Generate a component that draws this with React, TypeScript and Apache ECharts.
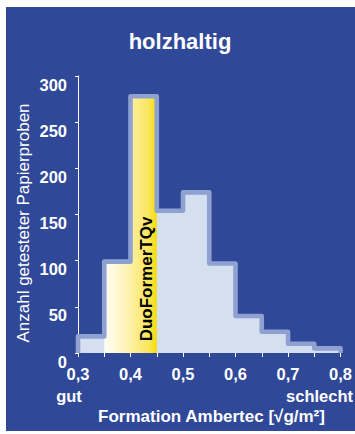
import React, { useEffect, useRef } from "react";
import * as echarts from "echarts";

// Histogram bins (Formation Ambertec, √g/m²)
const binStarts = [0.3, 0.35, 0.4, 0.45, 0.5, 0.55, 0.6, 0.65, 0.7, 0.75];
const binEnds = [0.35, 0.4, 0.45, 0.5, 0.55, 0.6, 0.65, 0.7, 0.75, 0.8];
const counts = [18, 99, 278, 154, 174, 97, 40, 23, 10, 5];
// bins filled with the yellow "DuoFormerTQv" gradient
const highlightBins = [0.35, 0.4];

const titleText = "holzhaltig";
const yAxisName = "Anzahl getesteter Papierproben";
const xAxisName = "Formation Ambertec [\u221Ag/m\u00B2]";
const leftNote = "gut";
const rightNote = "schlecht";
const barLabel = "DuoFormerTQv";

const FONT = '"Liberation Sans", Arial, Helvetica, sans-serif';
const BLUE = "#2F4898";
const FILL = "#D4DFF0";
const OUTLINE = "#8FA1D1";

const yellowStops: Record<string, { offset: number; color: string }[]> = {
  "0.35": [
    { offset: 0, color: "#FFFEF6" },
    { offset: 1, color: "#FDF1A8" },
  ],
  "0.4": [
    { offset: 0, color: "#FDF0A4" },
    { offset: 0.7, color: "#FAE65A" },
    { offset: 1, color: "#F5DC00" },
  ],
};

function fmtX(v: number) {
  const r = Math.round(v * 100);
  if (r % 10 !== 0) return "";
  return "0," + r / 10;
}

export default function App() {
  const ref = useRef<HTMLDivElement>(null);
  useEffect(() => {
    if (!ref.current) return;
    const chart = echarts.init(ref.current, null, { renderer: "svg" });

    const yellowData = binStarts
      .map((s, i) => [s, binEnds[i], counts[i]])
      .filter((d) => highlightBins.some((h) => Math.abs(h - d[0]) < 1e-6));
    const outline: number[][] = [[binStarts[0], 0]];
    binStarts.forEach((s, i) => {
      outline.push([s, counts[i]]);
      outline.push([binEnds[i], counts[i]]);
    });
    outline.push([binEnds[binEnds.length - 1], 0]);

    const textBase = { fill: "#fff", fontFamily: FONT };

    chart.setOption({
      animation: false,
      backgroundColor: BLUE,
      grid: { left: 72, right: 11.6, top: 69, bottom: 78, containLabel: false },
      xAxis: {
        type: "value",
        min: 0.3,
        max: 0.8,
        interval: 0.05,
        axisLine: { show: false },
        axisTick: { show: true, length: 4, lineStyle: { color: "#fff", width: 1 } },
        splitLine: { show: false },
        axisLabel: {
          formatter: fmtX,
          color: "#fff",
          fontWeight: "bold",
          fontSize: 16.5,
          fontFamily: FONT,
          margin: 12,
        },
      },
      yAxis: {
        type: "value",
        min: 0,
        max: 300,
        interval: 50,
        axisLine: { show: true, lineStyle: { color: "#fff", width: 1 } },
        axisTick: { show: true, length: 3, lineStyle: { color: "#fff", width: 1 } },
        splitLine: { show: false },
        axisLabel: {
          color: "#fff",
          fontWeight: "bold",
          fontSize: 16.5,
          fontFamily: FONT,
          margin: 11,
          verticalAlign: "top",
        },
      },
      series: [
        {
          // histogram body: one filled step polygon
          type: "line",
          z: 2,
          silent: true,
          symbol: "none",
          showSymbol: false,
          data: outline,
          lineStyle: { width: 0, opacity: 0 },
          areaStyle: { color: FILL, opacity: 1 },
        },
        {
          // yellow DuoFormerTQv bins
          type: "custom",
          z: 3,
          silent: true,
          encode: { x: [0, 1], y: 2 },
          data: yellowData,
          renderItem: (params: any, api: any) => {
            const s = api.value(0);
            const e = api.value(1);
            const v = api.value(2);
            const p0 = api.coord([s, 0]);
            const p1 = api.coord([e, v]);
            const key = String(Math.round(s * 100) / 100);
            return {
              type: "rect",
              shape: {
                x: p0[0],
                y: p1[1],
                width: p1[0] - p0[0] + (params.dataIndex === 0 ? 0.6 : 0),
                height: p0[1] - p1[1],
              },
              style: {
                fill: new echarts.graphic.LinearGradient(0, 0, 1, 0, yellowStops[key]),
              },
            };
          },
        },
        {
          // outline
          type: "line",
          z: 4,
          silent: true,
          clip: false,
          symbol: "none",
          showSymbol: false,
          data: outline,
          lineStyle: { color: OUTLINE, width: 4.6, join: "round", cap: "butt" },
        },
      ],
      graphic: [
        {
          type: "text",
          x: 174,
          y: 34,
          z: 100,
          style: {
            ...textBase,
            text: titleText,
            fontSize: 22,
            fontWeight: "bold",
            align: "center",
            verticalAlign: "middle",
          },
        },
        {
          type: "text",
          x: 17,
          y: 216,
          rotation: Math.PI / 2,
          z: 100,
          style: {
            ...textBase,
            text: yAxisName,
            fontSize: 17,
            fontWeight: "normal",
            align: "center",
            verticalAlign: "middle",
          },
        },
        {
          type: "text",
          x: 140.5,
          y: 272,
          rotation: Math.PI / 2,
          z: 100,
          style: {
            text: barLabel,
            fill: "#000",
            fontFamily: FONT,
            fontSize: 17,
            fontWeight: "bold",
            align: "center",
            verticalAlign: "middle",
          },
        },
        {
          type: "text",
          x: 63,
          y: 389,
          z: 100,
          style: {
            ...textBase,
            text: leftNote,
            fontSize: 16.5,
            fontWeight: "bold",
            align: "center",
            verticalAlign: "middle",
          },
        },
        {
          type: "text",
          x: 347,
          y: 389,
          z: 100,
          style: {
            ...textBase,
            text: rightNote,
            fontSize: 16.5,
            fontWeight: "bold",
            align: "right",
            verticalAlign: "middle",
          },
        },
        {
          type: "text",
          x: 205.5,
          y: 409,
          z: 100,
          style: {
            ...textBase,
            text: xAxisName,
            fontSize: 17,
            fontWeight: "bold",
            align: "center",
            verticalAlign: "middle",
          },
        },
      ],
    });
    return () => chart.dispose();
  }, []);

  return (
    <div
      style={{
        position: "fixed",
        left: 0,
        top: 0,
        width: 355,
        height: 434,
        background: "#fff",
      }}
    >
      <div
        ref={ref}
        style={{ position: "absolute", left: 6, top: 7, width: 349, height: 424 }}
      />
    </div>
  );
}
